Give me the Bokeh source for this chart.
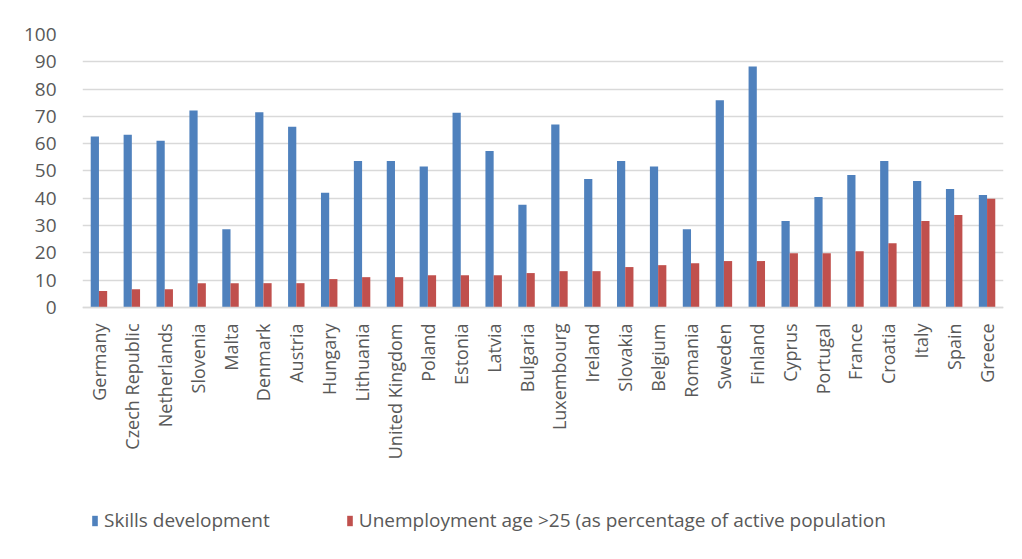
from bokeh.plotting import figure
from bokeh.models import ColumnDataSource, FactorRange, Legend, LegendItem, FixedTicker
from bokeh.transform import dodge
from bokeh.embed import file_html
from bokeh.resources import INLINE
from math import pi

countries = ["Germany", "Czech Republic", "Netherlands", "Slovenia", "Malta", "Denmark",
             "Austria", "Hungary", "Lithuania", "United Kingdom", "Poland", "Estonia",
             "Latvia", "Bulgaria", "Luxembourg", "Ireland", "Slovakia", "Belgium",
             "Romania", "Sweden", "Finland", "Cyprus", "Portugal", "France", "Croatia",
             "Italy", "Spain", "Greece"]
skills = [62.6, 63.3, 61.1, 72.2, 28.7, 71.5, 66.2, 42.0, 53.7, 53.7, 51.6, 71.3,
          57.3, 37.6, 67.0, 47.1, 53.7, 51.6, 28.7, 75.9, 88.3, 31.7, 40.5, 48.5,
          53.7, 46.3, 43.4, 41.2]
unemployment = [6.0, 6.7, 6.7, 8.9, 8.9, 8.9, 8.9, 10.4, 11.1, 11.1, 11.8, 11.8,
                11.8, 12.6, 13.3, 13.3, 14.8, 15.5, 16.2, 17.0, 17.0, 19.9, 19.9, 20.6,
                23.5, 31.7, 33.9, 39.8]
y_ticks = [0, 10, 20, 30, 40, 50, 60, 70, 80, 90, 100]
series_names = ["Skills development", "Unemployment age >25 (as percentage of active population"]

BLUE = "#4F81BD"
RED = "#C0504D"
TEXT = "#595959"
FONT = "Open Sans"

src = ColumnDataSource(dict(country=countries, skills=skills, unemp=unemployment))

# frame extends below the value axis so that the category labels and legend sit inside it
p = figure(x_range=FactorRange(*countries, range_padding=0), y_range=(-89.4, 100),
           frame_width=921, frame_height=517, output_backend="svg", toolbar_location=None,
           min_border_left=82, min_border_right=11, min_border_top=34, min_border_bottom=0)

r1 = p.vbar(x=dodge("country", -0.125, range=p.x_range), top="skills", width=0.25,
            source=src, fill_color=BLUE, line_color=None)
r2 = p.vbar(x=dodge("country", 0.125, range=p.x_range), top="unemp", width=0.25,
            source=src, fill_color=RED, line_color=None)

p.outline_line_color = None
p.xgrid.grid_line_color = None
p.ygrid.grid_line_color = "#D9D9D9"
p.ygrid.grid_line_width = 1.5

p.yaxis.ticker = FixedTicker(ticks=y_ticks)
p.yaxis.axis_line_color = None
p.yaxis.major_tick_line_color = None
p.yaxis.minor_tick_line_color = None
p.yaxis.major_label_text_font = FONT
p.yaxis.major_label_text_font_size = "19px"
p.yaxis.major_label_text_color = TEXT
p.yaxis.major_label_standoff = 20

p.xaxis.fixed_location = 0
p.xaxis.axis_line_color = "#D9D9D9"
p.xaxis.axis_line_width = 1.5
p.xaxis.major_tick_line_color = None
p.xaxis.minor_tick_line_color = None
p.xaxis.major_label_orientation = pi / 2
p.xaxis.major_label_text_font = FONT
p.xaxis.major_label_text_font_size = "18px"
p.xaxis.major_label_text_color = TEXT
p.xaxis.major_label_standoff = 10

legend = Legend(items=[LegendItem(label=series_names[0], renderers=[r1]),
                       LegendItem(label=series_names[1], renderers=[r2])],
                orientation="horizontal", location=(9, 18),
                padding=0, margin=0, spacing=76,
                glyph_width=7, glyph_height=13, label_standoff=6,
                label_text_font=FONT, label_text_font_size="19px", label_text_color=TEXT,
                background_fill_alpha=0, border_line_color=None)
p.add_layout(legend, "center")

open("out.html", "w").write(file_html(p, INLINE))
